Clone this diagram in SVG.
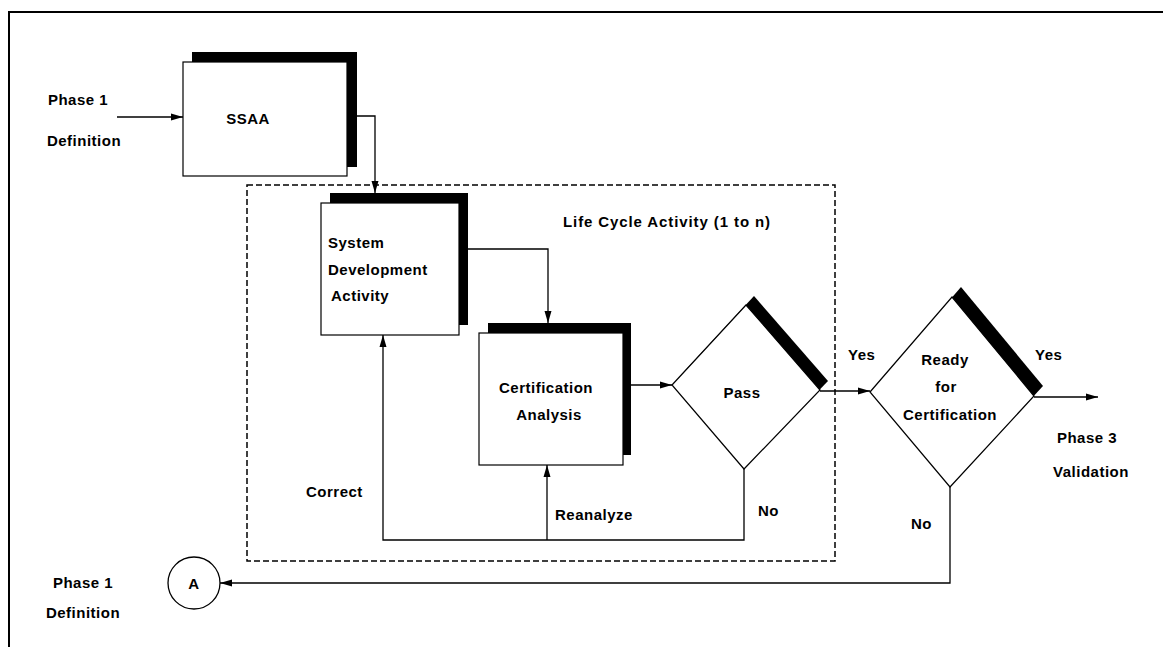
<svg xmlns="http://www.w3.org/2000/svg" width="1163" height="647" viewBox="0 0 1163 647">
<defs>
<marker id="ah" markerWidth="13" markerHeight="9" refX="12" refY="4.5" orient="auto" markerUnits="userSpaceOnUse">
<path d="M0,1 L12,4.5 L0,8 Z" fill="#000"/>
</marker>
<style>
text{font-family:"Liberation Sans",Arial,sans-serif;font-weight:bold;font-size:15px;fill:#000;letter-spacing:0.5px}
.c{text-anchor:middle}
.box{fill:#fff;stroke:#000;stroke-width:1.2}
.sh{fill:#000}
.arr{fill:none;stroke:#000;stroke-width:1.3;marker-end:url(#ah)}
</style>
</defs>
<rect width="1163" height="647" fill="#fff"/>
<path d="M9,647 V12 H1163" fill="none" stroke="#000" stroke-width="2"/>

<g id="lifecycle">
<rect x="247" y="185" width="588" height="376" fill="none" stroke="#000" stroke-width="1.5" stroke-dasharray="6,3"/>
<text x="563" y="227" style="letter-spacing:0.9px">Life Cycle Activity (1 to n)</text>
</g>

<g id="phase1-in">
<text x="78" y="105" class="c">Phase 1</text>
<text x="84" y="146" class="c">Definition</text>
</g>

<g id="ssaa">
<rect x="192" y="52" width="165" height="115" class="sh"/>
<rect x="183" y="62" width="164" height="114" class="box"/>
<text x="248" y="124" class="c">SSAA</text>
</g>

<g id="sda">
<rect x="330" y="193" width="138" height="132" class="sh"/>
<rect x="321" y="203" width="138" height="132" class="box"/>
<text x="328" y="248">System</text>
<text x="328" y="275">Development</text>
<text x="331" y="301">Activity</text>
</g>

<g id="ca">
<rect x="488" y="323" width="143" height="132" class="sh"/>
<rect x="479" y="333" width="144" height="132" class="box"/>
<text x="546" y="393" class="c">Certification</text>
<text x="549" y="420" class="c">Analysis</text>
</g>

<g id="pass">
<polygon points="680,376 754,296 828,381 752,460" class="sh"/>
<polygon points="672,385 746,305 820,390 744,469" class="box"/>
<text x="742" y="398" class="c">Pass</text>
</g>

<g id="ready">
<polygon points="879,382 961,287 1043,386 959,477" class="sh"/>
<polygon points="870,392 952,297 1034,396 950,487" class="box"/>
<text x="945" y="365" class="c">Ready</text>
<text x="946" y="392" class="c">for</text>
<text x="950" y="420" class="c">Certification</text>
</g>

<g id="phase3">
<text x="1087" y="443" class="c">Phase 3</text>
<text x="1091" y="477" class="c">Validation</text>
</g>

<g id="connector-A">
<ellipse cx="194" cy="583" rx="26" ry="26" fill="#fff" stroke="#000" stroke-width="1.3"/>
<text x="194" y="589" class="c">A</text>
</g>

<g id="phase1-out">
<text x="83" y="588" class="c">Phase 1</text>
<text x="83" y="618" class="c">Definition</text>
</g>

<g id="connectors">
<path d="M117,117 H183" class="arr"/>
<path d="M357,116 H375 V193" class="arr"/>
<path d="M468,249 H548 V323" class="arr"/>
<path d="M631,385 H672" class="arr"/>
<path d="M820,391 H870" class="arr"/>
<path d="M1034,397 H1098" class="arr"/>
<path d="M744,469 V540 H383 V335" class="arr"/>
<path d="M547,540 V465" class="arr"/>
<path d="M950,487 V583 H220" class="arr"/>
<text x="848" y="360">Yes</text>
<text x="1035" y="360">Yes</text>
<text x="306" y="497">Correct</text>
<text x="555" y="520">Reanalyze</text>
<text x="758" y="516">No</text>
<text x="911" y="529">No</text>
</g>
</svg>
